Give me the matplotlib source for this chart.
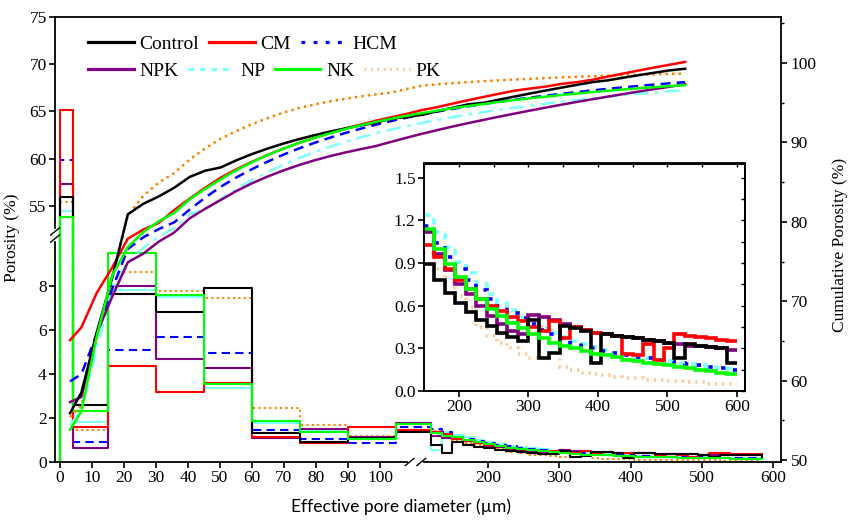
import numpy as np
import matplotlib
matplotlib.use("Agg")
import matplotlib.pyplot as plt
from matplotlib.ticker import (FixedLocator, MultipleLocator, FormatStrFormatter,
                               FuncFormatter)
from matplotlib.lines import Line2D

# ---- pore-diameter classes (µm) ----
edges = np.array([0, 4, 15, 30, 45, 60, 75, 90, 105, 120,
                  135, 150, 165, 180, 195, 210, 225, 240, 255, 270, 285, 300,
                  315, 330, 345, 360, 375, 390, 405, 420, 435, 450,
                  465, 480, 495, 510, 525, 540, 555, 570, 585, 600], dtype=float)

# ---- porosity share of each class (%) ----
control = [55.9, 2.6, 7.65, 6.85, 7.95, 1.32, 0.93, 1.1, 1.36,
           0.78, 0.41,
           0.89, 0.78, 0.69, 0.62, 0.555, 0.50, 0.455, 0.41, 0.38, 0.35,
           0.50, 0.23, 0.27, 0.46, 0.44, 0.42, 0.20, 0.40, 0.39, 0.38,
           0.37, 0.36, 0.35, 0.34, 0.23, 0.33, 0.32, 0.31, 0.30, 0.20]
cm = [65.1, 1.6, 4.38, 3.2, 3.6, 1.14, 0.85, 1.61, 1.46,
      1.35, 1.28,
      1.03, 0.94, 0.86, 0.78, 0.72, 0.65, 0.60, 0.56, 0.52, 0.49,
      0.45, 0.42, 0.49, 0.37, 0.45, 0.43, 0.41, 0.40, 0.39, 0.26,
      0.25, 0.33, 0.22, 0.30, 0.40, 0.39, 0.38, 0.37, 0.36, 0.35]
hcm = [59.9, 0.91, 5.1, 5.7, 4.97, 1.47, 1.04, 0.85, 1.61,
       1.5, 1.37,
       1.16, 1.04, 0.94, 0.86, 0.78, 0.71, 0.65, 0.60, 0.55, 0.51,
       0.47, 0.43, 0.40, 0.37, 0.34, 0.32, 0.30, 0.28, 0.27, 0.25,
       0.24, 0.23, 0.22, 0.21, 0.20, 0.19, 0.18, 0.17, 0.16, 0.15]
npk = [57.3, 0.64, 8.0, 4.68, 4.29, 1.08, 1.52, 1.15, 1.79,
       1.2, 1.1,
       1.12, 0.965, 0.85, 0.75, 0.68, 0.60, 0.53, 0.47, 0.42, 0.40,
       0.535, 0.52, 0.50, 0.47, 0.45, 0.43, 0.41, 0.40, 0.39, 0.38,
       0.37, 0.36, 0.35, 0.34, 0.33, 0.32, 0.32, 0.31, 0.30, 0.29]
np_trt = [54.4, 1.83, 7.85, 7.5, 3.37, 1.78, 1.4, 1.1, 1.75,
          0.55, 1.35,
          1.24, 1.12, 1.01, 0.91, 0.83, 0.75, 0.68, 0.62, 0.57, 0.52,
          0.48, 0.44, 0.41, 0.38, 0.35, 0.33, 0.31, 0.29, 0.27, 0.26,
          0.24, 0.23, 0.22, 0.21, 0.20, 0.19, 0.18, 0.17, 0.16, 0.155]
nk = [53.8, 2.33, 9.52, 7.62, 3.56, 1.87, 1.38, 1.04, 1.73,
      1.3, 1.2,
      1.14, 1.0, 0.89, 0.80, 0.72, 0.65, 0.58, 0.53, 0.48, 0.44,
      0.40, 0.37, 0.34, 0.32, 0.30, 0.28, 0.26, 0.25, 0.24, 0.22,
      0.21, 0.20, 0.19, 0.18, 0.17, 0.16, 0.15, 0.14, 0.13, 0.12]
pk = [55.4, 1.47, 8.65, 7.8, 7.47, 2.47, 1.69, 1.19, 1.72,
      1.4, 1.2,
      0.97, 0.86, 0.76, 0.67, 0.59, 0.45, 0.39, 0.34, 0.30, 0.26,
      0.23, 0.45, 0.42, 0.17, 0.15, 0.13, 0.12, 0.11, 0.10, 0.09,
      0.09, 0.08, 0.08, 0.07, 0.07, 0.06, 0.06, 0.05, 0.05, 0.05]

names = ["Control", "CM", "HCM", "NPK", "NP", "NK", "PK"]
data = dict(zip(names, [control, cm, hcm, npk, np_trt, nk, pk]))

# colour and line styles (main steps, cumulative curve, inset steps)
styles = {
    "Control": dict(c="black", ls="-", cls="-", ils="-"),
    "CM":      dict(c="#FF0000", ls="-", cls="-", ils="-"),
    "HCM":     dict(c="#0000FF", ls=(0, (4, 2.5)), cls=(0, (4, 2.5)), ils=(0, (1.2, 2.6))),
    "NPK":     dict(c="#800080", ls="-", cls="-", ils="-"),
    "NP":      dict(c="#80FFFF", ls="-", cls=(0, (6, 2.5, 1.5, 2.5)), ils=(0, (1.8, 1.8))),
    "NK":      dict(c="#00FF00", ls="-", cls="-", ils="-"),
    "PK":      dict(c="#FF8000", ls=(0, (1, 1.6)), cls=(0, (1, 1.6)), ils=(0, (0.6, 1.4))),
}
pk_light = "#FFC99A"
draw_order = ["PK", "NP", "HCM", "NPK", "CM", "Control", "NK"]

SERIF = ["Liberation Serif", "DejaVu Serif"]
plt.rcParams["font.family"] = "serif"
plt.rcParams["font.serif"] = SERIF
plt.rcParams["axes.linewidth"] = 1.3
plt.rcParams["axes.formatter.use_mathtext"] = False

plain = FuncFormatter(lambda v, p: f"{v:g}")

# ---- broken axis scales ----
XB, RX = 114.8, 0.7125 / 3.2


def fx(x):
    x = np.asarray(x, float)
    return np.where(x <= XB, x, XB + (x - XB) * RX)


def fx_inv(u):
    u = np.asarray(u, float)
    return np.where(u <= XB, u, XB + (u - XB) / RX)


YL, YU, RY, EPS = 10.32, 51.86, 9.42 / 21.9, 1e-3


def fy(y):
    y = np.asarray(y, float)
    return np.where(y <= YL, y,
                    np.where(y >= YU, YL + EPS + (y - YU) * RY,
                             YL + (y - YL) * EPS / (YU - YL)))


def fy_inv(u):
    u = np.asarray(u, float)
    return np.where(u <= YL, u,
                    np.where(u >= YL + EPS, YU + (u - YL - EPS) / RY,
                             YL + (u - YL) * (YU - YL) / EPS))


fig = plt.figure(figsize=(8.51, 5.20), dpi=100)
rect = [55 / 851, 1 - 462 / 520, 726 / 851, 445 / 520]
ax = fig.add_axes(rect)
ax.set_xscale("function", functions=(fx, fx_inv))
ax.set_yscale("function", functions=(fy, fy_inv))
ax.set_xlim(-1.56, 611.2)
ax.set_ylim(0, 75)

# class-wise porosity as steps
for n in draw_order:
    s = styles[n]
    vals = np.asarray(data[n])
    ax.step(np.r_[edges[0], edges[:-1]], np.r_[0, vals], where="post",
            color=s["c"], ls=s["ls"], lw=1.5)

ax.xaxis.set_major_locator(FixedLocator([0, 10, 20, 30, 40, 50, 60, 70, 80, 90, 100,
                                         200, 300, 400, 500, 600]))
ax.yaxis.set_major_locator(FixedLocator([0, 2, 4, 6, 8, 55, 60, 65, 70, 75]))
ax.xaxis.set_major_formatter(plain)
ax.yaxis.set_major_formatter(plain)
ax.xaxis.set_minor_locator(FixedLocator([]))
ax.yaxis.set_minor_locator(FixedLocator([]))
ax.tick_params(direction="out", length=4, width=1.2, labelsize=12.5, pad=2)
ax.set_ylabel("Porosity (%)", fontsize=12.5)
ax.yaxis.set_label_coords(-0.048, 0.503)
ax.set_xlabel("Effective pore diameter (µm)", fontsize=12.5,
              family=["Lato", "DejaVu Sans"])
ax.xaxis.set_label_coords(0.4766, -0.083)

# axis break marks
ax.plot([0.4885, 0.5045], [0, 0], transform=ax.transAxes, color="white",
        lw=3, clip_on=False, zorder=5)
for xa in (0.4885, 0.5045):
    ax.plot([xa - 0.006, xa + 0.006], [-0.008, 0.008], transform=ax.transAxes,
            color="black", lw=1, clip_on=False, zorder=6)
ax.plot([0, 0], [0.502, 0.518], transform=ax.transAxes, color="white",
        lw=3, clip_on=False, zorder=5)
for ya in (0.502, 0.518):
    ax.plot([-0.006, 0.006], [ya - 0.008, ya + 0.008], transform=ax.transAxes,
            color="black", lw=1, clip_on=False, zorder=6)

# cumulative porosity on its own layer
axc = fig.add_axes(rect, frameon=False)
axc.set_xlim(-10.56, 692.9)
axc.set_ylim(49.75, 105.8)
for n in draw_order:
    s = styles[n]
    axc.plot(edges[1:], np.cumsum(data[n]), color=s["c"], ls=s["cls"], lw=1.8)
axc.xaxis.set_visible(False)
axc.yaxis.tick_right()
axc.yaxis.set_label_position("right")
axc.yaxis.set_major_locator(MultipleLocator(10))
axc.yaxis.set_minor_locator(MultipleLocator(5))
axc.yaxis.set_major_formatter(plain)
axc.tick_params(axis="y", which="major", direction="out", length=4, width=1.2,
                labelsize=12.5, pad=3)
axc.tick_params(axis="y", which="minor", direction="out", length=2.5, width=1.0)
axc.set_ylabel("Cumulative Porosity (%)", fontsize=12.5)
axc.yaxis.set_label_coords(1.07, 0.488)


# legends (two rows)
def handle(n):
    s = styles[n]
    col = pk_light if n == "PK" else s["c"]
    ls = s["ils"] if n in ("HCM", "NP", "PK") else "-"
    return Line2D([], [], color=col, ls=ls, lw=2.3)


leg_kw = dict(frameon=False, handlelength=2.35, handletextpad=0.3,
              columnspacing=0.5, borderpad=0, borderaxespad=0, loc="center left",
              prop=dict(family=SERIF, size=14))
row1 = ["Control", "CM", "HCM"]
row2 = ["NPK", "NP", "NK", "PK"]
leg1 = axc.legend([handle(n) for n in row1], row1, ncol=3,
                  bbox_to_anchor=(0.0455, 0.939), **leg_kw)
axc.add_artist(leg1)
axc.legend([handle(n) for n in row2], row2, ncol=4,
           bbox_to_anchor=(0.0455, 0.879), **leg_kw)

# inset: classes above 150 µm
axi = fig.add_axes([424 / 851, 1 - 391 / 520, 321 / 851, 227.5 / 520])
axi.set_zorder(10)
for n in draw_order:
    s = styles[n]
    col = pk_light if n == "PK" else s["c"]
    axi.stairs(np.asarray(data[n])[11:], edges[11:], baseline=None,
               color=col, ls=s["ils"], lw=2.6)
axi.set_xlim(150, 611.5)
axi.set_ylim(0, 1.6)
axi.xaxis.set_major_locator(MultipleLocator(100))
axi.xaxis.set_major_formatter(plain)
axi.yaxis.set_major_locator(MultipleLocator(0.3))
axi.yaxis.set_major_formatter(FormatStrFormatter("%.1f"))
axi.tick_params(direction="out", length=4, width=1.2, labelsize=12.5, pad=2)
for sp in axi.spines.values():
    sp.set_linewidth(1.4)
sec_x = axi.secondary_xaxis("top")
sec_x.xaxis.set_major_locator(MultipleLocator(50))
sec_x.tick_params(direction="in", length=3, width=1, labeltop=False)
sec_y = axi.secondary_yaxis("right")
sec_y.yaxis.set_major_locator(MultipleLocator(0.15))
sec_y.tick_params(direction="in", length=3, width=1, labelright=False)

fig.savefig("out.png", dpi=100)
